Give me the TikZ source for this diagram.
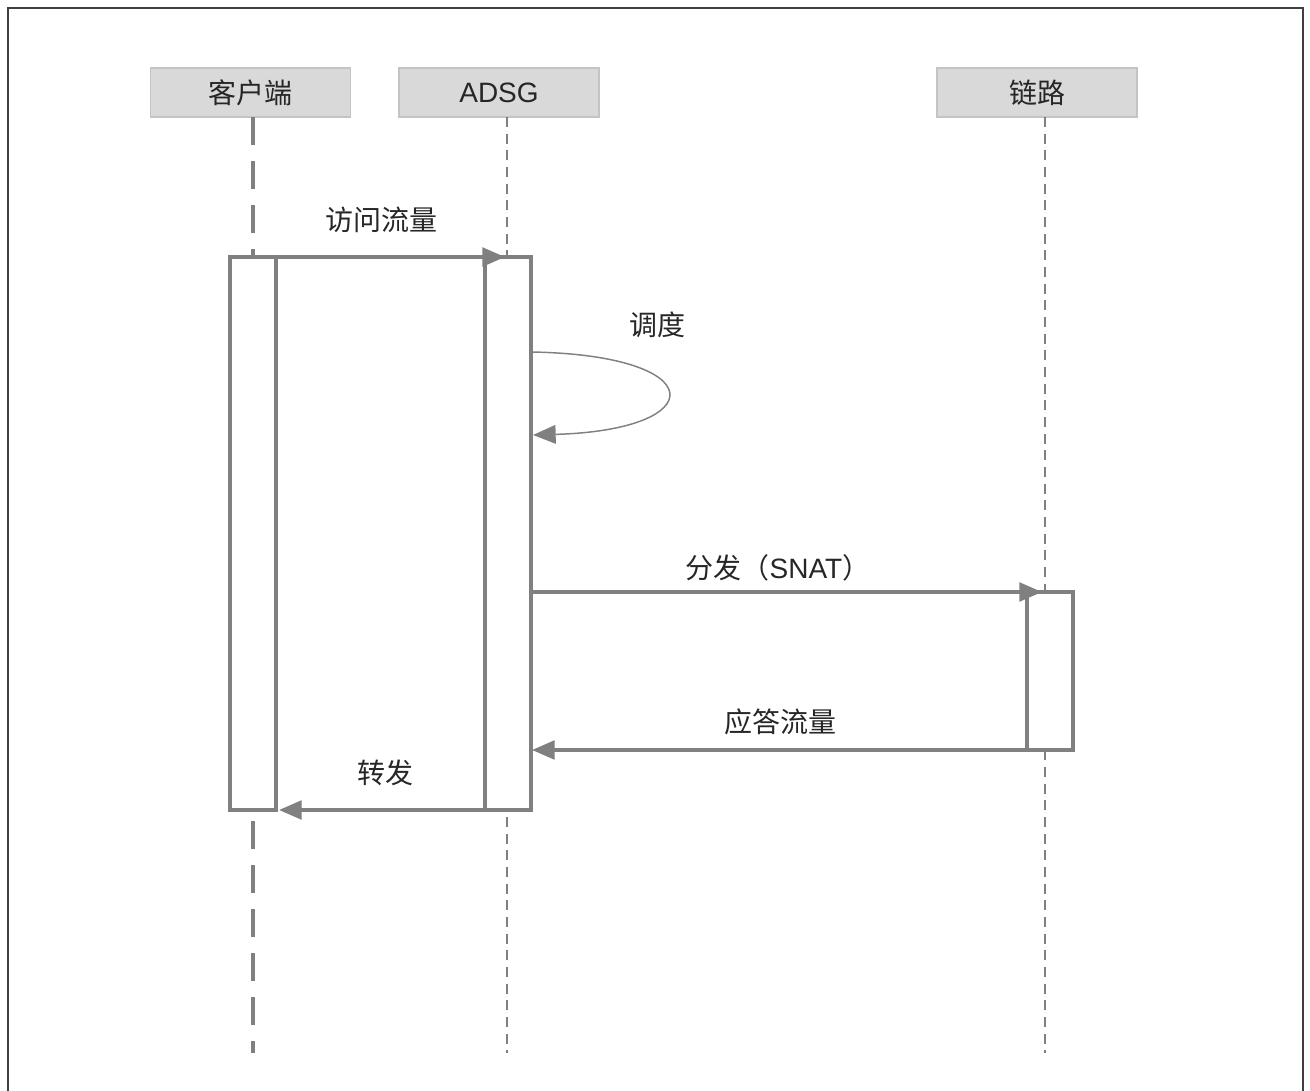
\documentclass[tikz,border=0pt]{standalone}
\usepackage{fontspec}
\setmainfont{Liberation Sans}
\newfontfamily\cjk{Noto Sans CJK SC}
\usetikzlibrary{arrows.meta}
\definecolor{hdrfill}{HTML}{D9D9D9}
\definecolor{hdrline}{HTML}{C4C4C4}
\definecolor{ln}{HTML}{808080}
\definecolor{txt}{HTML}{262626}
\definecolor{frame}{HTML}{404040}
\begin{document}
\begin{tikzpicture}[x=0.75pt,y=-0.75pt,
  hdr/.style={draw=hdrline,line width=1.2pt,fill=hdrfill,minimum width=150pt,minimum height=36.5pt,inner sep=0pt,
    font=\fontsize{21}{25}\selectfont\cjk,text=txt},
  actbox/.style={draw=ln,line width=2.8pt,fill=white,minimum width=34.5pt,inner sep=0pt,outer sep=0pt},
  boxline/.style={draw=ln,line width=2.8pt},
  lifethick/.style={draw=ln,line width=2.3pt,dash pattern=on 21pt off 12pt},
  lifethin/.style={draw=ln,line width=1pt,dash pattern=on 7.5pt off 5pt},
  msg/.style={draw=ln,line width=2.6pt,-{Triangle[length=17pt,width=14pt]},color=ln},
  lbl/.style={font=\fontsize{21}{25}\selectfont\cjk,text=txt,inner sep=0pt}]
\useasboundingbox (0,0) rectangle (1310,1091);
% outer frame (open at bottom)
\draw[frame,line width=1.6pt] (8,1100) -- (8,8) -- (1303,8) -- (1303,1100);
% headers
\node[hdr] (hc) at (250.5,92.5) {客户端};
\node[hdr] (ha) at (499,92.5) {{\fontsize{21}{25}\selectfont\rmfamily ADSG}};
\node[hdr] (hl) at (1037,92.5) {链路};
% lifeline ends
\coordinate (ce) at (253,1053);
\coordinate (ae) at (507,1053);
\coordinate (le) at (1045,1053);
\draw[lifethick] (253,117) -- (ce);
\draw[lifethin] (507,117) -- (ae);
\draw[lifethin] (1045,117) -- (le);
% activation boxes
\node[actbox,minimum height=414.75pt] (bc) at (253,533.5) {};
\node[actbox,minimum height=414.75pt] (ba) at (508,533.5) {};
\node[actbox,minimum height=118.5pt] (bl) at (1050,671) {};
% tips
\coordinate (t1) at (505,257);
\coordinate (t3) at (1042,592);
\coordinate (t4) at (532,750);
\coordinate (t5) at (279,810);
\coordinate (s0) at (531,352);
\coordinate (s1) at (533,435);
% messages
\draw[msg] (bc.east |- t1) -- (t1);
\node[lbl] (l1) at (381,220) {访问流量};
\draw[ln,line width=1.1pt,-{Triangle[length=17pt,width=14pt]}] (s0) .. controls (712,355) and (712,430) .. (s1);
\node[lbl] (l2) at (657,325) {调度};
\draw[msg] (ba.east |- t3) -- (t3);
\node[lbl] (l3) at (778,568) {分发（{\rmfamily SNAT}）};
\draw[msg] (bl.west |- t4) -- (t4);
\node[lbl] (l4) at (780,722) {应答流量};
\draw[msg] (ba.west |- t5) -- (t5);
\node[lbl] (l5) at (385,773) {转发};
% redraw box outlines over arrow bases
\draw[boxline] (bc.north west) rectangle (bc.south east);
\draw[boxline] (ba.north west) rectangle (ba.south east);
\draw[boxline] (bl.north west) rectangle (bl.south east);
\end{tikzpicture}
\end{document}
